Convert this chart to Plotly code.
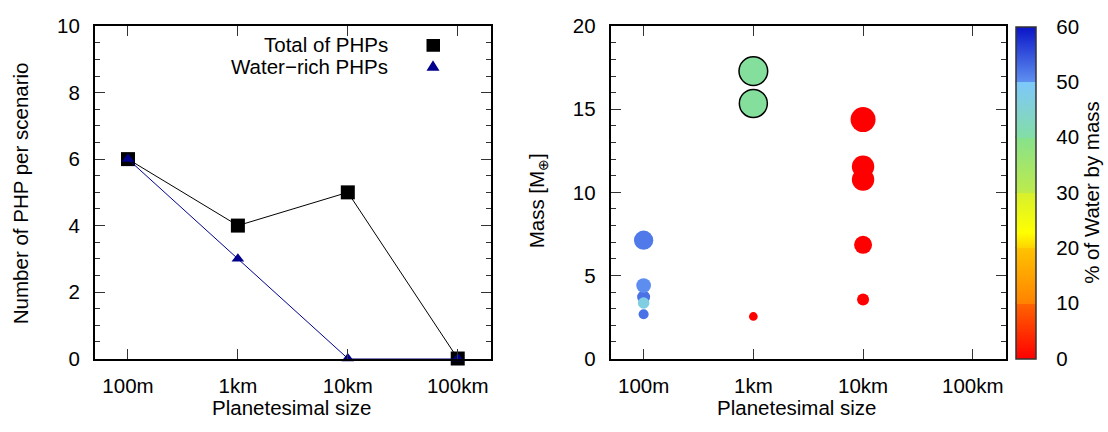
import plotly.graph_objects as go

# ---------------- data ----------------
size_labels = ["100m", "1km", "10km", "100km"]
total_php = [6, 4, 5, 0]
water_rich_php = [6, 3, 0, 0]

planet_size = ["100m", "100m", "100m", "100m", "100m",
               "1km", "1km", "1km",
               "10km", "10km", "10km", "10km", "10km"]
planet_mass = [7.12, 3.70, 4.39, 3.34, 2.66,
               17.30, 15.35, 2.53,
               14.38, 11.55, 10.77, 6.84, 3.55]
planet_water = [51.8, 52.5, 50.2, 47.0, 52.5,
                40.0, 40.0, 0.0,
                0.0, 0.0, 0.0, 0.0, 0.0]
planet_diam = [19.3, 13, 14.7, 11.5, 10,
               28.7, 28, 8.7,
               25, 22.4, 22.4, 18, 12]
planet_outline = [0, 0, 0, 0, 0, 1.5, 1.5, 0, 0, 0, 0, 0, 0]

cbar_ticks = [0, 10, 20, 30, 40, 50, 60]

# ---------------- layout geometry ----------------
W, H = 1108, 432
def px(x):
    return x / W
def py(y):
    return 1 - y / H

FONT = "Liberation Sans, Arial, Helvetica, sans-serif"
FS = 20.5

colorscale = [
    [0.0, "rgb(255,0,0)"],
    [0.1666, "rgb(255,100,0)"],
    [0.1667, "rgb(255,130,0)"],
    [0.3333, "rgb(255,195,0)"],
    [0.3334, "rgb(255,210,0)"],
    [0.38, "rgb(255,255,0)"],
    [0.4999, "rgb(215,240,45)"],
    [0.5, "rgb(190,235,75)"],
    [0.6666, "rgb(135,225,140)"],
    [0.6667, "rgb(130,222,165)"],
    [0.75, "rgb(130,210,210)"],
    [0.8332, "rgb(125,200,250)"],
    [0.8333, "rgb(95,145,240)"],
    [1.0, "rgb(10,20,200)"],
]

fig = go.Figure()

fig.add_trace(go.Scatter(
    x=size_labels, y=total_php, mode="lines+markers",
    line=dict(color="black", width=1),
    marker=dict(symbol="square", size=14, color="black"),
    cliponaxis=False, showlegend=False, xaxis="x", yaxis="y"))
fig.add_trace(go.Scatter(
    x=size_labels, y=water_rich_php, mode="lines+markers",
    line=dict(color="rgb(0,0,140)", width=1),
    marker=dict(symbol="triangle-up", size=11, color="rgb(0,0,140)"),
    cliponaxis=False, showlegend=False, xaxis="x", yaxis="y"))

fig.add_trace(go.Scatter(
    x=planet_size, y=planet_mass, mode="markers",
    marker=dict(size=planet_diam, color=planet_water, colorscale=colorscale,
                cmin=0, cmax=60, opacity=1,
                line=dict(color="black", width=planet_outline),
                colorbar=dict(
                    x=px(1015.7), xanchor="left", xpad=0,
                    y=py(366), yanchor="bottom", ypad=0,
                    len=351 / H, lenmode="fraction",
                    thickness=20, thicknessmode="pixels",
                    outlinewidth=1.5, outlinecolor="#333",
                    tickvals=cbar_ticks, ticks="outside", ticklen=16,
                    tickcolor="rgba(0,0,0,0)",
                    tickfont=dict(family=FONT, size=FS, color="black"))),
    showlegend=False, xaxis="x2", yaxis="y2"))

xcommon = dict(type="category", categoryorder="array", categoryarray=size_labels,
               range=[-0.3, 3.3], showline=True, linewidth=2, linecolor="black",
               mirror="ticks", ticks="inside", ticklen=10, tickwidth=1,
               tickcolor="#333", showgrid=False, zeroline=False,
               tickfont=dict(family=FONT, size=FS, color="black"),
               ticklabelstandoff=8)
ycommon = dict(showline=True, linewidth=2, linecolor="black", mirror="ticks",
               ticks="inside", ticklen=10, tickwidth=1, tickcolor="#333",
               showgrid=False, zeroline=False,
               tickfont=dict(family=FONT, size=FS, color="black"),
               ticklabelstandoff=9)

fig.update_layout(
    width=W, height=H, margin=dict(l=0, r=0, t=0, b=0),
    paper_bgcolor="white", plot_bgcolor="white",
    font=dict(family=FONT, size=FS, color="black"),
    xaxis=dict(domain=[px(95), px(490.7)], anchor="y", **xcommon),
    yaxis=dict(domain=[py(366), py(15)], anchor="x", range=[0, 10], dtick=2,
               minor=dict(ticks="inside", ticklen=5, dtick=0.5, tickcolor="#333", tickwidth=1),
               **ycommon),
    xaxis2=dict(domain=[px(610.7), px(1005.7)], anchor="y2", **xcommon),
    yaxis2=dict(domain=[py(366), py(15)], anchor="x2", range=[0, 20], dtick=5,
                minor=dict(ticks="inside", ticklen=5, dtick=1, tickcolor="#333", tickwidth=1),
                **ycommon),
)

ann = dict(xref="paper", yref="paper", showarrow=False,
           font=dict(family=FONT, size=FS, color="black"))
fig.add_annotation(text="Planetesimal size", x=px(292), y=py(418), xanchor="center", yanchor="middle", **ann)
fig.add_annotation(text="Planetesimal size", x=px(797), y=py(418), xanchor="center", yanchor="middle", **ann)
fig.add_annotation(text="Number of PHP per scenario", x=px(20.7), y=py(191.7), textangle=-90,
                   xanchor="center", yanchor="middle", **ann)
fig.add_annotation(text="Mass [M<sub>⊕</sub>]", x=px(538), y=py(200), textangle=-90,
                   xanchor="center", yanchor="middle", **ann)
fig.add_annotation(text="% of Water by mass", x=px(1092), y=py(191), textangle=-90,
                   xanchor="center", yanchor="middle", **ann)
# legend
fig.add_annotation(text="Total of PHPs", x=px(390), y=py(33.8), xanchor="right", yanchor="middle", **ann)
fig.add_annotation(text="Water\u2212rich PHPs", x=px(390), y=py(57.8), xanchor="right", yanchor="middle", **ann)
fig.add_shape(type="rect", xref="paper", yref="paper",
              x0=px(426.5), x1=px(440), y0=py(28.5), y1=py(42), fillcolor="black", line=dict(width=0))
fig.add_shape(type="path", xref="paper", yref="paper",
              path=f"M {px(426.5)},{py(62)} L {px(439.5)},{py(62)} L {px(433)},{py(51)} Z",
              fillcolor="rgb(0,0,140)", line=dict(width=0))

# colorbar inner tick lines
cb_y0, cb_y1 = 366, 15
for v in cbar_ticks[1:-1]:
    yy = cb_y0 - (cb_y0 - cb_y1) * v / 60
    fig.add_shape(type="line", xref="paper", yref="paper",
                  x0=px(1015.7), x1=px(1035.7), y0=py(yy), y1=py(yy),
                  line=dict(color="rgba(40,40,40,0.75)", width=1.5))

fig.write_html("out.html", config={"displayModeBar": False},
               post_script="document.body.style.margin='0px';")
